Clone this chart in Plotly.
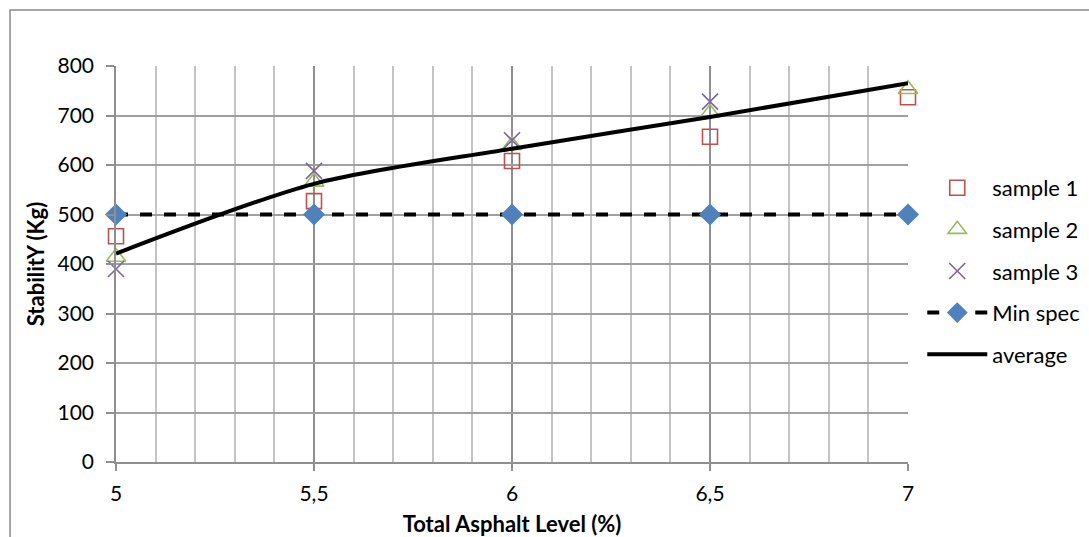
import plotly.graph_objects as go

asphalt = [5, 5.5, 6, 6.5, 7]
sample1 = [456, 527, 608, 657, 737]
sample2 = [414, 566, 640, 705, 753]
sample3 = [390, 588, 650, 728, None]
min_spec = [500, 500, 500, 500, 500]
average = [421, 562, 633, 697, 765]

FONT = "Lato"

fig = go.Figure()
fig.add_trace(go.Scatter(x=asphalt, y=sample1, mode="markers", name="sample 1",
                         legendgroup="a",
                         marker=dict(symbol="square-open", size=15, color="#C0504D",
                                     line=dict(width=1.6, color="#C0504D")),
                         cliponaxis=False))
fig.add_trace(go.Scatter(x=asphalt, y=sample2, mode="markers", name="sample 2",
                         legendgroup="b",
                         marker=dict(symbol="triangle-up-open", size=17, color="#9BBB59",
                                     line=dict(width=1.6, color="#9BBB59")),
                         cliponaxis=False))
fig.add_trace(go.Scatter(x=asphalt, y=sample3, mode="markers", name="sample 3",
                         legendgroup="c",
                         marker=dict(symbol="x-thin", size=16, color="#8064A2",
                                     line=dict(width=1.6, color="#8064A2")),
                         cliponaxis=False))
fig.add_trace(go.Scatter(x=asphalt, y=min_spec, mode="lines+markers", name="Min spec",
                         legendgroup="d",
                         line=dict(color="black", width=4, dash="dash"),
                         marker=dict(symbol="diamond", size=17, color="#4F81BD"),
                         cliponaxis=False))
fig.add_trace(go.Scatter(x=asphalt, y=average, mode="lines", name="average",
                         legendgroup="e",
                         line=dict(color="black", width=4, shape="spline", smoothing=0.8),
                         cliponaxis=False))

fig.add_shape(type="rect", xref="paper", yref="paper",
              x0=-0.1338, x1=1.3, y0=-0.3, y1=1.1414,
              line=dict(color="#8c8c8c", width=1.5), layer="below")

fig.update_layout(
    width=1089, height=537,
    margin=dict(l=116, r=181, t=66, b=75, autoexpand=False),
    paper_bgcolor="white", plot_bgcolor="white",
    separators=",.",
    font=dict(family=FONT, size=21, color="black"),
    showlegend=True,
    legend=dict(x=1.018, y=0.745, xanchor="left", yanchor="top",
                font=dict(family=FONT, size=22, color="black"),
                tracegroupgap=10, itemwidth=60, bgcolor="rgba(0,0,0,0)"),
    xaxis=dict(range=[5, 7], dtick=0.5, tick0=5, automargin=False,
               showgrid=True, gridcolor="#8f8f8f", gridwidth=1.5,
               minor=dict(dtick=0.1, showgrid=True, gridcolor="#c4c4c4", gridwidth=1.5),
               showline=True, linecolor="#8f8f8f", linewidth=1.5,
               ticks="outside", ticklen=7, tickcolor="#8f8f8f", tickwidth=1.5,
               ticklabelstandoff=5, zeroline=False, tickfont=dict(size=21),
               title=dict(text="<b>Total Asphalt Level (%)</b>", font=dict(size=22), standoff=13)),
    yaxis=dict(range=[0, 800], dtick=100, automargin=False,
               showgrid=True, gridcolor="#9f9f9f", gridwidth=1.5,
               showline=True, linecolor="#8f8f8f", linewidth=1.5,
               ticks="outside", ticklen=8, tickcolor="#8f8f8f", tickwidth=1.5,
               ticklabelstandoff=8, zeroline=False, tickfont=dict(size=21),
               title=dict(text="<b>StabilitY (Kg)</b>", font=dict(size=22), standoff=7)),
)

fig.write_html("out.html")
